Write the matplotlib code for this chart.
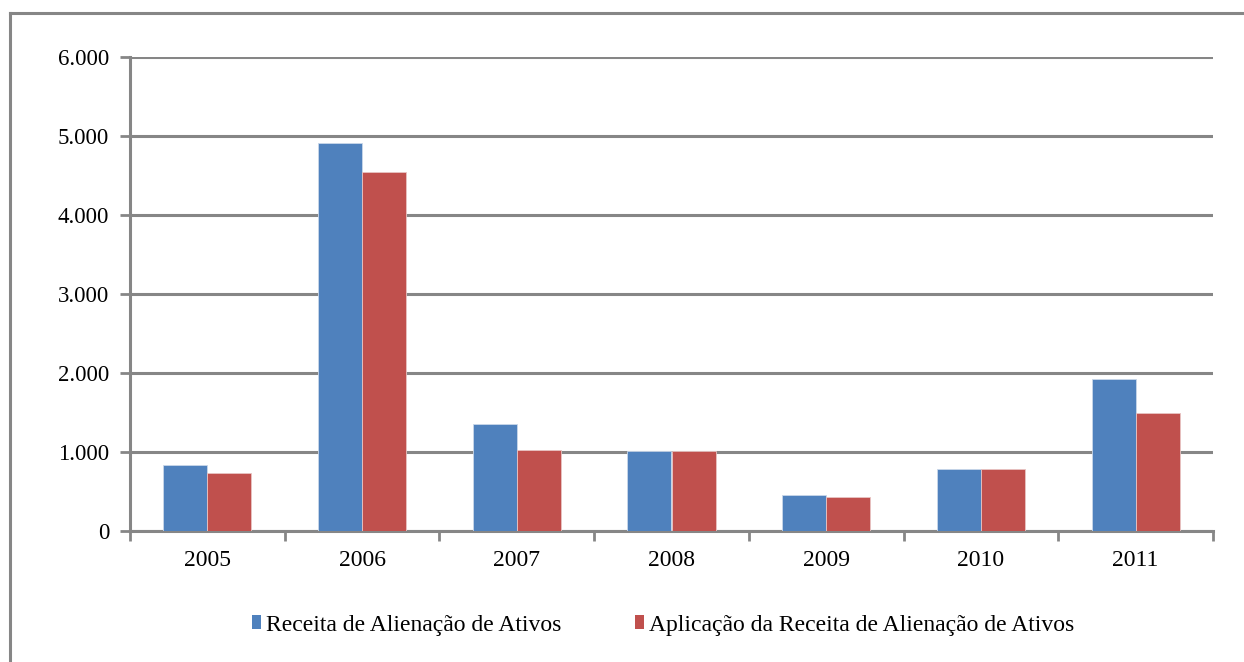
import matplotlib
matplotlib.use("Agg")
import matplotlib.pyplot as plt
from matplotlib.patches import Patch
from matplotlib.lines import Line2D
import numpy as np

years = ["2005", "2006", "2007", "2008", "2009", "2010", "2011"]
receita = [830, 4910, 1360, 1010, 450, 790, 1920]
aplicacao = [730, 4550, 1020, 1010, 425, 790, 1490]
series_names = ["Receita de Alienação de Ativos",
                "Aplicação da Receita de Alienação de Ativos"]
yticks = [0, 1000, 2000, 3000, 4000, 5000, 6000]
ytick_labels = ["0", "1.000", "2.000", "3.000", "4.000", "5.000", "6.000"]

blue = "#4F81BD"
red = "#C0504D"
gray = "#868686"

plt.rcParams['font.family'] = ['Liberation Serif', 'DejaVu Serif']

W, H = 1244, 662
fig = plt.figure(figsize=(W / 100, H / 100), dpi=100)
ax = fig.add_axes([130 / W, 1 - 531 / H, (1213 - 130) / W, (531 - 57) / H])

x = np.arange(len(years))
bw = 0.285
ax.bar(x - bw / 2, receita, bw, color=blue, edgecolor="#c9d7ea", linewidth=0.6, zorder=3)
ax.bar(x + bw / 2, aplicacao, bw, color=red, edgecolor="#e8c4c3", linewidth=0.6, zorder=3)

ax.set_xlim(-0.5, len(years) - 0.5)
ax.set_ylim(0, 6000)
ax.set_yticks(yticks)
ax.set_yticklabels(ytick_labels, fontsize=16.5)
ax.set_xticks(x)
ax.set_xticklabels(years, fontsize=17)
ax.tick_params(axis='x', which='major', length=0, pad=14)
ax.set_xticks(np.arange(len(years) + 1) - 0.5, minor=True)
ax.tick_params(axis='x', which='minor', length=7, width=2, color=gray, direction='out')
ax.tick_params(axis='y', length=7, width=2, color=gray, pad=8)

ax.grid(axis='y', color=gray, linewidth=2.2, zorder=0)
ax.set_axisbelow(True)
for s in ['top', 'right']:
    ax.spines[s].set_visible(False)
for s in ['left', 'bottom']:
    ax.spines[s].set_color(gray)
    ax.spines[s].set_linewidth(2.2)

handles = [Patch(facecolor=blue, edgecolor='none'), Patch(facecolor=red, edgecolor='none')]
fig.legend(handles, series_names, loc='center', bbox_to_anchor=(663 / W, 1 - 625 / H),
           ncol=2, frameon=False, fontsize=17, handlelength=0.4, handleheight=0.55,
           handletextpad=0.2, columnspacing=3.1)

# outer chart border (partially cropped)
fig.add_artist(Line2D([10 / W, 10 / W], [0, 1 - 13 / H], transform=fig.transFigure,
                      color=gray, linewidth=2.2))
fig.add_artist(Line2D([10 / W, 1], [1 - 13 / H, 1 - 13 / H], transform=fig.transFigure,
                      color=gray, linewidth=2.2))

fig.savefig("out.png", dpi=100)
